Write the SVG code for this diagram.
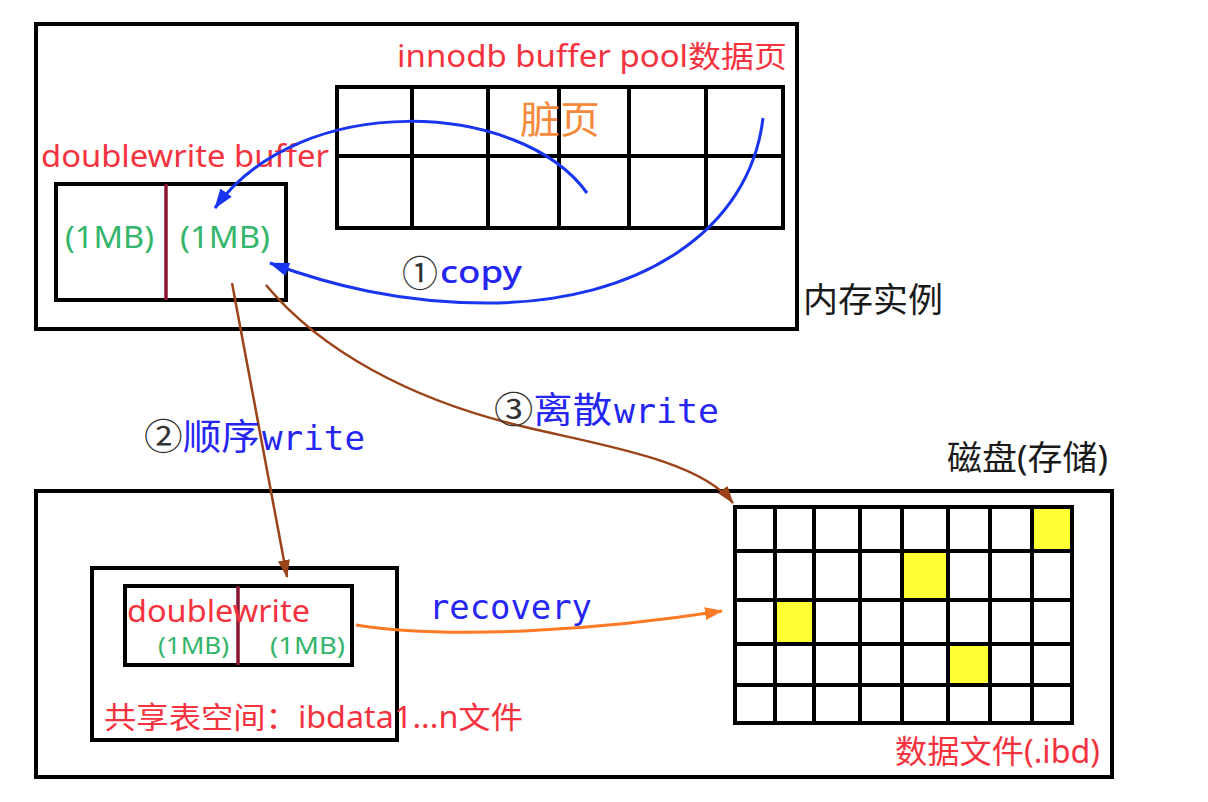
<svg xmlns="http://www.w3.org/2000/svg" width="1208" height="802" viewBox="0 0 1208 802">
<style>
.box{fill:none;stroke:#000;stroke-width:4}
.cell{fill:#fff;stroke:#000;stroke-width:4}
.hl{fill:#ffff33;stroke:#000;stroke-width:4}
.sans{font-family:"Noto Sans","Noto Sans CJK SC",sans-serif}
.mono{font-family:"DejaVu Sans Mono","Liberation Mono",monospace}
.red{fill:#f5333f}
.green{fill:#33b56b}
.blue{fill:#2626f2}
.circ{fill:#333}
.blk{fill:#1a1a1a}
.div{stroke:#8a1530;stroke-width:3.5}
</style>
<defs>
<marker id="ah-blue" viewBox="0 0 20 14" refX="19" refY="7" markerWidth="20" markerHeight="14" markerUnits="userSpaceOnUse" orient="auto"><path d="M0,0 L20,7 L0,14 z" fill="#1a35f0"/></marker>
<marker id="ah-brown" viewBox="0 0 18 12" refX="17" refY="6" markerWidth="18" markerHeight="12" markerUnits="userSpaceOnUse" orient="auto"><path d="M0,0 L18,6 L0,12 z" fill="#9b4319"/></marker>
<marker id="ah-orange" viewBox="0 0 18 13" refX="17" refY="6.5" markerWidth="18" markerHeight="13" markerUnits="userSpaceOnUse" orient="auto"><path d="M0,0 L18,6.5 L0,13 z" fill="#ff7a26"/></marker>
</defs>
<rect width="1208" height="802" fill="#fff"/>

<g id="memory-instance">
<rect class="box" x="36" y="24" width="761" height="305"/>
<text class="sans blk" x="803" y="312" font-size="34" textLength="140" lengthAdjust="spacingAndGlyphs">内存实例</text>
</g>

<g id="buffer-pool">
<text class="sans red" x="397" y="67" font-size="30" textLength="390" lengthAdjust="spacingAndGlyphs">innodb buffer pool数据页</text>
<rect class="box" x="337" y="87" width="446" height="141"/>
<line class="box" x1="337" y1="156" x2="783" y2="156"/>
<line class="box" x1="412" y1="87" x2="412" y2="228"/>
<line class="box" x1="488" y1="87" x2="488" y2="228"/>
<line class="box" x1="559" y1="87" x2="559" y2="228"/>
<line class="box" x1="629" y1="87" x2="629" y2="228"/>
<line class="box" x1="706" y1="87" x2="706" y2="228"/>
<text class="sans" x="520" y="133" font-size="38" fill="#f58a3c" textLength="80" lengthAdjust="spacingAndGlyphs">脏页</text>
</g>

<g id="doublewrite-buffer">
<text class="sans red" x="41" y="167" font-size="30" textLength="288" lengthAdjust="spacingAndGlyphs">doublewrite buffer</text>
<rect class="box" x="56" y="184" width="230" height="116"/>
<line class="div" x1="166" y1="184" x2="166" y2="300"/>
<text class="sans green" x="65" y="248" font-size="30" textLength="89" lengthAdjust="spacingAndGlyphs">(1MB)</text>
<text class="sans green" x="180" y="248" font-size="30" textLength="90" lengthAdjust="spacingAndGlyphs">(1MB)</text>
</g>

<g id="disk">
<rect class="box" x="36" y="491" width="1076" height="286"/>
<text class="sans blk" x="947" y="470" font-size="34" textLength="161" lengthAdjust="spacingAndGlyphs">磁盘(存储)</text>
</g>

<g id="shared-tablespace">
<rect class="box" x="92" y="568" width="305" height="172"/>
<rect class="box" x="125" y="586" width="227" height="79"/>
<line class="div" x1="238" y1="586" x2="238" y2="665"/>
<text class="sans red" x="127" y="622" font-size="30" textLength="183" lengthAdjust="spacingAndGlyphs">doublewrite</text>
<text class="sans green" x="158" y="654" font-size="24" textLength="71" lengthAdjust="spacingAndGlyphs">(1MB)</text>
<text class="sans green" x="270" y="654" font-size="24" textLength="75" lengthAdjust="spacingAndGlyphs">(1MB)</text>
<text class="sans red" x="104" y="728" font-size="30" textLength="419" lengthAdjust="spacingAndGlyphs">共享表空间：ibdata1...n文件</text>
</g>

<g id="data-file">
<rect class="cell" x="735" y="507" width="337" height="216"/>
<rect class="hl" x="1032" y="507" width="40" height="44"/>
<rect class="hl" x="902" y="551" width="46" height="49"/>
<rect class="hl" x="775" y="600" width="39" height="44"/>
<rect class="hl" x="948" y="644" width="42" height="41"/>
<line class="box" x1="735" y1="551" x2="1072" y2="551"/>
<line class="box" x1="735" y1="600" x2="1072" y2="600"/>
<line class="box" x1="735" y1="644" x2="1072" y2="644"/>
<line class="box" x1="735" y1="685" x2="1072" y2="685"/>
<line class="box" x1="775" y1="507" x2="775" y2="723"/>
<line class="box" x1="814" y1="507" x2="814" y2="723"/>
<line class="box" x1="860" y1="507" x2="860" y2="723"/>
<line class="box" x1="902" y1="507" x2="902" y2="723"/>
<line class="box" x1="948" y1="507" x2="948" y2="723"/>
<line class="box" x1="990" y1="507" x2="990" y2="723"/>
<line class="box" x1="1032" y1="507" x2="1032" y2="723"/>
<text class="sans red" x="895" y="763" font-size="32" textLength="205" lengthAdjust="spacingAndGlyphs">数据文件(.ibd)</text>
</g>

<g id="connectors" fill="none">
<path d="M587 193 C520 100 300 90 215 208" stroke="#1a35f0" stroke-width="3" marker-end="url(#ah-blue)"/>
<path d="M763 118 C750 230 640 303 487 303 C400 303 330 285 270 263" stroke="#1a35f0" stroke-width="3" marker-end="url(#ah-blue)"/>
<path d="M232 283 L287 577" stroke="#9b4319" stroke-width="2.5" marker-end="url(#ah-brown)"/>
<path d="M266 285 C320 350 410 400 525 427 C600 445 700 460 733 503" stroke="#9b4319" stroke-width="2.5" marker-end="url(#ah-brown)"/>
<path d="M356 625 C450 640 600 630 722 611" stroke="#ff7a26" stroke-width="3" marker-end="url(#ah-orange)"/>
</g>

<g id="labels">
<text class="sans circ" x="402" y="287" font-size="36">①</text>
<text class="sans blue" x="440" y="283" font-size="31" font-weight="500" textLength="82" lengthAdjust="spacingAndGlyphs">copy</text>
<text class="sans" x="144" y="450" font-size="36" textLength="116" lengthAdjust="spacingAndGlyphs"><tspan class="circ">②</tspan><tspan class="blue">顺序</tspan></text>
<text class="mono blue" x="262" y="450" font-size="34" textLength="103" lengthAdjust="spacingAndGlyphs">write</text>
<text class="sans" x="494" y="423" font-size="36" textLength="118" lengthAdjust="spacingAndGlyphs"><tspan class="circ">③</tspan><tspan class="blue">离散</tspan></text>
<text class="mono blue" x="614" y="423" font-size="34" textLength="105" lengthAdjust="spacingAndGlyphs">write</text>
<text class="mono blue" x="429" y="619" font-size="34" textLength="163" lengthAdjust="spacingAndGlyphs">recovery</text>
</g>
</svg>
